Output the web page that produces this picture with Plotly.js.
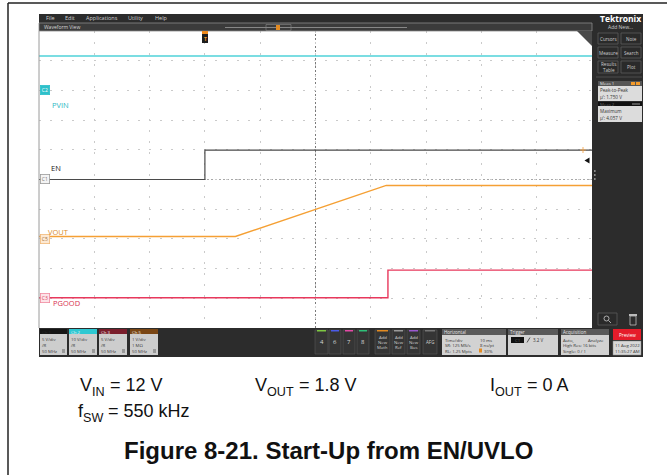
<!DOCTYPE html>
<html>
<head>
<meta charset="utf-8">
<script src="https://cdn.plot.ly/plotly-3.0.1.min.js"></script>
<style>html,body{margin:0;padding:0;background:#fff;}#chart{width:667px;height:475px;}</style>
</head>
<body>
<div id="chart"></div>
<script>
// ---------------- data (read from the scope capture) ----------------
// time in ms, trigger (EN rising edge) at 0 ms; 10 ms/div
const timeRange = [-30, 70];
const channelNames = ["EN", "PVIN", "PGOOD", "VOUT"];
const channelIds = ["C1", "C2", "C3", "C5"];
const voltsPerDiv = [5, 10, 5, 1];
const offsetDiv = [0, 3, -4, -2];

const enTime = [-30, 0, 0, 70];
const enVolts = [0, 0, 4.95, 4.95];

const pvinTime = [-30, 70];
const pvinVolts = [11.6, 11.6];

const pgoodTime = [-30, 33.1, 33.1, 70];
const pgoodVolts = [0.1, 0.1, 4.75, 4.75];

const voutTime = [-30, 5.5, 32.8, 70];
const voutVolts = [0.08, 0.08, 1.8, 1.8];

const triggerLevel = 3.2;

// ---------------- layout helpers ----------------
const W = 667, H = 475;
const px = x => x / W;
const py = y => 1 - y / H;
const UI = "Open Sans, DejaVu Sans, sans-serif";
const CAP = "Liberation Sans, Arial, sans-serif";

const shapes = [];
const ann = [];
function rect(x0, y0, x1, y1, fill, line, lw, layer) {
  shapes.push({type: 'rect', xref: 'paper', yref: 'paper',
    x0: px(x0), x1: px(x1), y0: py(y1), y1: py(y0),
    fillcolor: fill, line: {color: line || fill, width: lw || 0}, layer: layer || 'above'});
}
function line(x0, y0, x1, y1, color, w, dash) {
  shapes.push({type: 'line', xref: 'paper', yref: 'paper',
    x0: px(x0), x1: px(x1), y0: py(y0), y1: py(y1),
    line: {color: color, width: w || 1, dash: dash || 'solid'}});
}
function txt(x, y, text, size, color, opts) {
  const o = opts || {};
  ann.push(Object.assign({xref: 'paper', yref: 'paper', x: px(x), y: py(y), text: text,
    showarrow: false, xanchor: o.xa || 'center', yanchor: 'middle', borderpad: 0, borderwidth: 0,
    font: {size: size, color: color, family: o.family || UI, weight: o.weight || 'normal'}}, o.extra || {}));
}
// caption row with real subscripts built from measured pieces
const mctx = document.createElement('canvas').getContext('2d');
function measure(s, size) { mctx.font = size + 'px "Liberation Sans"'; return mctx.measureText(s).width; }
function capRow(x, y, parts, size) {
  const sub = size * 0.7;
  let cx = x;
  parts.forEach(p => {
    const isSub = p[1] === 's';
    const fs = isSub ? sub : size;
    const lead = p[0].length - p[0].replace(/^\s+/, '').length;
    const leadW = lead ? measure(p[0].slice(0, lead), fs) : 0;
    const t = p[0].trim();
    txt(cx + leadW, isSub ? y + 6.5 : y, t, fs, '#111', {family: CAP, xa: 'left'});
    cx += measure(p[0], fs);
  });
}

// ---------------- page frame ----------------
line(8, 3, 667, 3, '#222', 1.5);
line(8, 3, 8, 475, '#222', 1.5);

// ---------------- scope chrome ----------------
const DARK = '#2c2c2c';
rect(39, 14, 643, 31, DARK, null, 0, 'below');        // menu + header strip
rect(592, 14, 643, 357, DARK, null, 0, 'below');      // right panel
rect(39, 328, 643, 357, DARK, null, 0, 'below');      // bottom bar
rect(39, 23, 592, 31, '#3b3b3b', '#8c8c8c', 0.8);     // Waveform View header
line(39, 31, 39, 328, '#9a9a9a', 1);
// menu
[["File", 50], ["Edit", 70], ["Applications", 102], ["Utility", 135], ["Help", 161]].forEach(m => txt(m[1], 18.5, m[0], 5.5, '#d0d0d0'));
txt(44, 27.5, "Waveform View", 5, '#d8d8d8', {xa: 'left'});
// zoom overview indicator
line(225, 27.5, 407, 27.5, '#9a9a9a', 0.8);
rect(266, 24.5, 291, 30.5, 'rgba(0,0,0,0)', '#8a8a8a', 0.6);
rect(276, 25, 280, 30, '#e38b22', '#e38b22', 0);
// trigger marker on top of graticule
rect(202, 31, 208, 34, '#f08a1c');
rect(202, 34, 208, 43, '#1d1d1d');
txt(205, 38.5, "T", 5, '#f39a2a', {weight: 'bold'});
// top-right triangle
shapes.push({type: 'path', xref: 'paper', yref: 'paper',
  path: `M ${px(577)} ${py(31)} L ${px(592)} ${py(31)} L ${px(592)} ${py(46)} Z`,
  fillcolor: '#4a4a4a', line: {width: 0}});

// right panel
txt(620, 18, "Tektronix", 8.5, '#ffffff', {weight: 'bold'});
txt(620, 27.5, "Add New...", 5, '#d0d0d0');
function btn(x0, y0, x1, y1, label) {
  rect(x0, y0, x1, y1, '#2a2a2a', '#5c5c5c', 0.8);
  txt((x0 + x1) / 2, (y0 + y1) / 2, label, 4.6, '#cfcfcf');
}
btn(598, 33, 618, 44, "Cursors"); btn(621, 33, 641, 44, "Note");
btn(598, 47, 618, 58, "Measure"); btn(621, 47, 641, 58, "Search");
btn(598, 61, 618, 73, "Results<br>Table"); btn(621, 61, 641, 73, "Plot");
line(596, 77, 642, 77, '#555', 0.8);
rect(598, 81, 642, 86, '#565656');
txt(600, 83.5, "Meas 1", 4.3, '#e0e0e0', {xa: 'left'});
rect(631, 82, 635, 85, '#f39a2a'); rect(636, 82, 640, 85, '#f39a2a');
rect(598, 86, 642, 101, '#dcdcdc');
txt(600, 90, "Peak-to-Peak", 4.6, '#333', {xa: 'left'});
txt(600, 96.5, "μ': 1.750 V", 4.6, '#333', {xa: 'left'});
rect(598, 102, 642, 106, '#111');
txt(600, 104, "Meas 2", 4.3, '#666', {xa: 'left'});
rect(632, 103, 640, 105, '#555');
rect(598, 106, 642, 122, '#dcdcdc');
txt(600, 111, "Maximum", 4.6, '#333', {xa: 'left'});
txt(600, 117.5, "μ': 4.057 V", 4.6, '#333', {xa: 'left'});
// panel resize handle (three dots)
[171, 175, 179].forEach(y => rect(594, y - 0.8, 595.6, y + 0.8, '#aaa'));
// bottom-right icons
rect(598, 313, 617, 325, '#2a2a2a', '#5c5c5c', 0.8);
shapes.push({type: 'circle', xref: 'paper', yref: 'paper', x0: px(604), x1: px(609), y0: py(321), y1: py(316), line: {color: '#ccc', width: 0.8}});
line(608.5, 320.5, 611, 323, '#ccc', 0.8);
rect(629, 314, 637, 316, '#bbb'); rect(630, 316, 636, 325, 'rgba(0,0,0,0)', '#bbb', 0.8);

// bottom bar: channel badges
const badgeX = [[40, 67], [69, 97], [99, 127], [130, 158]];
const badgeHead = ['#151515', '#2ec8d2', '#7a1e2c', '#7a4614'];
const badgeTitle = ['Ch 1', 'Ch 2', 'Ch 3', 'Ch 5'];
const badgeLines = [["5 V/div", "/R", "50 MHz"], ["10 V/div", "/R", "50 MHz"], ["5 V/div", "/R", "50 MHz"], ["1 V/div", "1 MΩ", "50 MHz"]];
badgeX.forEach((b, i) => {
  rect(b[0], 329, b[1], 334, badgeHead[i]);
  txt(b[0] + 2, 331.5, badgeTitle[i], 4.3, i === 0 ? '#2a2a2a' : '#f2f2f2', {xa: 'left'});
  rect(b[0], 334, b[1], 355, '#cdcdcd');
  badgeLines[i].forEach((t, j) => txt(b[0] + 2, 339 + j * 6, t, 4.3, '#3a3a3a', {xa: 'left'}));
  line(b[1] - 5, 350, b[1] - 2, 350, '#3a3a3a', 0.7);
  line(b[1] - 5, 352, b[1] - 2, 352, '#3a3a3a', 0.7);
});
// numbered buttons
[[315, 328, "4", '#7ec843'], [329, 341, "6", '#4b5be8'], [343, 355, "7", '#e34aa6'], [357, 369, "8", '#2fbf78']].forEach(b => {
  rect(b[0], 330, b[1], 354, '#353535', '#575757', 0.6);
  rect(b[0] + 2, 330, b[1] - 2, 331.5, b[3]);
  txt((b[0] + b[1]) / 2, 342, b[2], 6, '#d8d8d8');
});
[[375, 390, "Math", '#e38b22'], [392, 405, "Ref", '#9a9a9a'], [407, 420, "Bus", '#9b59d0']].forEach(b => {
  rect(b[0], 330, b[1], 354, '#353535', '#575757', 0.6);
  rect(b[0] + 2, 330, b[1] - 2, 331.5, b[3]);
  txt((b[0] + b[1]) / 2, 336.5, "Add", 4.3, '#cfcfcf');
  txt((b[0] + b[1]) / 2, 341.5, "New", 4.3, '#cfcfcf');
  txt((b[0] + b[1]) / 2, 346.5, b[2], 4.3, '#cfcfcf');
});
rect(423, 330, 437, 354, '#353535', '#575757', 0.6);
rect(425, 330, 435, 331.5, '#777');
txt(430, 342, "AFG", 4.5, '#cfcfcf');
// Horizontal
rect(442, 329, 506, 335, '#5a5a5a');
txt(444, 332, "Horizontal", 4.5, '#e8e8e8', {xa: 'left'});
rect(442, 335, 506, 355, '#d2d2d2');
txt(445, 339.5, "Time/div", 4.3, '#333', {xa: 'left'}); txt(480, 339.5, "10 ms", 4.3, '#333', {xa: 'left'});
txt(445, 345, "SR: 125 MS/s", 4.3, '#333', {xa: 'left'}); txt(480, 345, "8 ns/pt", 4.3, '#333', {xa: 'left'});
txt(445, 350.5, "RL: 1.25 Mpts", 4.3, '#333', {xa: 'left'}); txt(484, 350.5, "30%", 4.3, '#333', {xa: 'left'});
rect(479, 348.5, 482, 352.5, '#e38b22');
// Trigger
rect(508, 329, 558, 335, '#5a5a5a');
txt(510, 332, "Trigger", 4.5, '#e8e8e8', {xa: 'left'});
rect(508, 335, 558, 355, '#d2d2d2');
rect(511, 337, 524, 343, '#111');
txt(517.5, 340, "C1", 4.2, '#666');
line(527, 342.5, 530, 337.5, '#333', 0.8);
txt(533, 340, "3.2 V", 4.5, '#333', {xa: 'left'});
// Acquisition
rect(561, 329, 609, 335, '#5a5a5a');
txt(563, 332, "Acquisition", 4.5, '#e8e8e8', {xa: 'left'});
rect(561, 335, 609, 355, '#d2d2d2');
txt(563, 339.5, "Auto,", 4.3, '#333', {xa: 'left'}); txt(588, 339.5, "Analyze", 4.3, '#333', {xa: 'left'});
txt(563, 345, "High Res: 16 bits", 4.3, '#333', {xa: 'left'});
txt(563, 350.5, "Single: 0 / 1", 4.3, '#333', {xa: 'left'});
// Preview + date
rect(613, 329, 641, 340, '#e51c2a');
txt(627, 334.5, "Preview", 4.6, '#fff');
rect(613, 341, 641, 355, '#d8d8d8', '#888', 0.5);
txt(627, 345, "11 Aug 2022", 4.3, '#333');
txt(627, 351, "11:35:27 AM", 4.3, '#333');

// graticule center lines
shapes.push({type: 'line', xref: 'x', yref: 'paper', x0: 20, x1: 20, y0: py(328), y1: py(23),
  line: {color: '#7a7a7a', width: 1, dash: '2px,2px'}, layer: 'below'});
shapes.push({type: 'line', xref: 'x', yref: 'y', x0: timeRange[0], x1: timeRange[1], y0: 0, y1: 0,
  line: {color: '#a8a8a8', width: 1, dash: '2px,2px'}, layer: 'below'});

// channel ground markers and labels
const badgeFill = ['#f4f4f4', '#2ec0ca', '#fde3e8', '#fde9d3'];
const badgeBorder = ['#9a9a9a', '#2ec0ca', '#f08aa0', '#f0b878'];
const badgeText = ['#777', '#ffffff', '#d64060', '#a07040'];
const yrefs = ['y', 'y2', 'y3', 'y4'];
channelIds.forEach((c, i) => {
  ann.push({xref: 'paper', yref: yrefs[i], x: px(40), y: 0, xanchor: 'left', yanchor: 'middle',
    text: c, showarrow: false, bgcolor: badgeFill[i], bordercolor: badgeBorder[i], borderwidth: 0.8, borderpad: 1,
    font: {size: 5, color: badgeText[i], family: UI}});
});
txt(52, 105, "PVIN", 7.5, '#2fb8c4', {xa: 'left'});
txt(51, 168, "EN", 7.5, '#222', {xa: 'left'});
txt(48, 232, "VOUT", 7.5, '#d98a2a', {xa: 'left'});
txt(53, 303, "PGOOD", 7.5, '#d83050', {xa: 'left'});
// trigger level marker (C1, 3.2 V): small filled arrow pointing left at the level
shapes.push({type: 'path', xref: 'paper', yref: 'paper',
  path: `M ${px(584.5)} ${py(160.5)} L ${px(589.5)} ${py(157.5)} L ${px(589.5)} ${py(163.5)} Z`,
  fillcolor: '#111', line: {width: 0}});
// small orange level tick near right edge
line(580, 150, 586, 150, '#f3a040', 0.8);
line(583, 147, 583, 153, '#f3a040', 0.8);

// caption
capRow(80, 385, [["V", 'n'], ["IN", 's'], [" = 12 V", 'n']], 18);
capRow(255, 385, [["V", 'n'], ["OUT", 's'], [" = 1.8 V", 'n']], 18);
capRow(490, 385, [["I", 'n'], ["OUT", 's'], [" = 0 A", 'n']], 18);
capRow(78, 411, [["f", 'n'], ["SW", 's'], [" = 550 kHz", 'n']], 18);
txt(328, 450, "Figure 8-21. Start-Up from EN/UVLO", 24, '#111', {family: CAP, weight: 'bold'});

// ---------------- traces ----------------
const traces = [
  {x: pvinTime, y: pvinVolts, yaxis: 'y2', name: channelNames[1], mode: 'lines', line: {color: '#4fd2d8', width: 1.6}},
  {x: enTime, y: enVolts, yaxis: 'y', name: channelNames[0], mode: 'lines', line: {color: '#4a4a4a', width: 1.2}},
  {x: voutTime, y: voutVolts, yaxis: 'y4', name: channelNames[3], mode: 'lines', line: {color: '#f5a034', width: 1.4}},
  {x: pgoodTime, y: pgoodVolts, yaxis: 'y3', name: channelNames[2], mode: 'lines', line: {color: '#e8385c', width: 1.4}}
];

function chRange(i) { return [(-5 - offsetDiv[i]) * voltsPerDiv[i], (5 - offsetDiv[i]) * voltsPerDiv[i]]; }
const yDom = [py(328), py(31)];
const hidden = {visible: false, showgrid: false, zeroline: false, fixedrange: true};
const layout = {
  width: W, height: H, margin: {l: 0, r: 0, t: 0, b: 0},
  paper_bgcolor: '#ffffff', plot_bgcolor: 'rgba(0,0,0,0)', showlegend: false,
  xaxis: {domain: [px(39), px(592)], range: timeRange, dtick: 10, tick0: 0,
    showgrid: true, gridcolor: '#cacaca', gridwidth: 1, griddash: '2px,9px',
    zeroline: false, showticklabels: false, ticks: '', showline: false},
  yaxis: {domain: yDom, range: chRange(0), dtick: voltsPerDiv[0], tick0: 0,
    showgrid: true, gridcolor: '#cacaca', gridwidth: 1, griddash: '2px,9px',
    zeroline: false, showticklabels: false, ticks: '', showline: false},
  yaxis2: Object.assign({overlaying: 'y', range: chRange(1)}, hidden),
  yaxis3: Object.assign({overlaying: 'y', range: chRange(2)}, hidden),
  yaxis4: Object.assign({overlaying: 'y', range: chRange(3)}, hidden),
  shapes: shapes, annotations: ann
};
Plotly.newPlot('chart', traces, layout, {staticPlot: true, displayModeBar: false});
</script>
</body>
</html>
